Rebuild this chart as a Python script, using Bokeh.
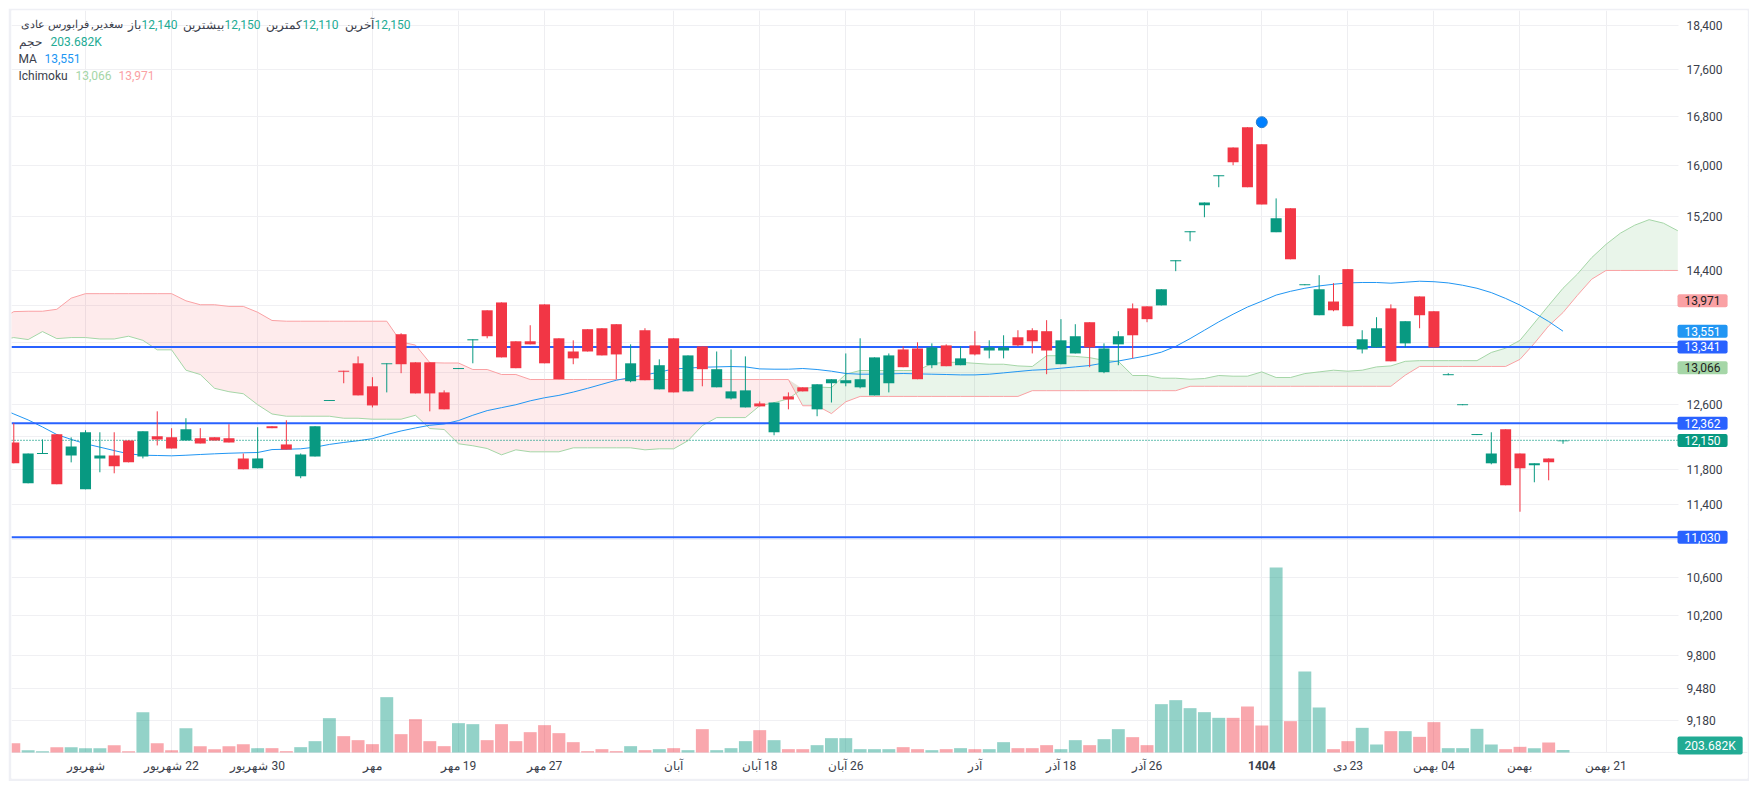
from bokeh.plotting import figure
from bokeh.models import (ColumnDataSource, Range1d, LinearScale, FixedTicker, NumeralTickFormatter, Label)
from bokeh.embed import file_html
from bokeh.resources import INLINE
import numpy as np

opens = [12126,11641,11987,12226,11969,11571,11934,11969,12151,11957,12201,12188,12151,12176,12188,12176,11934,11817,12324,12102,
         11723,11957,12639,13027,13124,12826,13112,13511,13137,13137,12748,13049,13429,13838,13947,13416,13416,13920,13456,13280,
         13579,13592,13647,12891,13565,12787,13456,12761,13348,12813,12671,12558,12608,12250,12697,12813,12534,12865,12865,12813,
         12710,12865,13307,13320,13099,13361,13099,13361,13293,13293,13470,13565,13552,13112,13254,13674,13008,13375,13865,13893,
         13906,14533,14962,15368,15823,16284,16617,16334,14962,15323,14189,13770,13960,14419,13307,13334,13865,13388,14031,13825,
         12969,12586,12216,11876,12287,11993,11852,11934,12140]
highs = [12361,11993,12163,12226,12188,12275,12250,12250,12151,12262,12509,12300,12423,12300,12188,12349,11993,12312,12324,12398,
         11993,12324,12651,13027,13215,12943,13124,13524,13137,13137,12774,13062,13443,13838,13947,13416,13633,13920,13456,13429,
         13579,13592,13647,13375,13592,13176,13456,13228,13348,13280,13307,13215,12633,12620,12748,12813,12852,12917,13254,13456,
         13202,13254,13348,13402,13388,13375,13348,13552,13429,13497,13565,13592,13702,13716,13647,13674,13388,13552,13933,13893,
         14132,14548,14977,15413,15838,16284,16617,16334,15475,15323,14203,14332,14218,14419,13565,13743,13920,13688,14031,13825,
         12995,12598,12228,12250,12287,11993,11876,11934,12150]
lows = [11876,11641,11987,11630,11887,11571,11770,11758,11887,11934,12090,12053,12151,12114,12151,12126,11805,11817,12300,12040,
        11700,11957,12639,12865,12710,12558,12748,12995,12735,12509,12534,13049,13124,13456,13202,13060,13375,13124,12917,13112,
        13280,13228,12917,12878,12904,12787,12748,12761,12826,12813,12658,12558,12571,12213,12534,12761,12448,12620,12826,12800,
        12710,12748,13073,12917,13060,13086,13099,13228,13189,13189,13348,13254,12982,13112,13254,13073,12995,13099,13189,13674,
        13906,14390,14826,15187,15649,15997,15649,15383,14962,14562,14189,13770,13825,13620,13254,13334,13150,13334,13592,13334,
        12969,12586,12216,11864,11618,11315,11653,11676,12110]
closes = [11876,11993,11999,11630,12078,12250,11969,11840,11887,12262,12163,12053,12287,12114,12151,12126,11805,11934,12300,12040,
          11981,12324,12651,13014,12710,12583,13124,13112,12735,12735,12534,13062,13443,13484,13202,13060,13375,13124,12917,13189,
          13280,13228,13241,13124,12904,13099,12748,13228,13047,13047,12761,12774,12571,12620,12658,12761,12852,12917,12904,12917,
          13202,13228,13073,12917,13334,13086,13189,13241,13334,13334,13361,13416,13293,13429,13484,13334,13320,13484,13497,13716,
          14132,14548,14977,15413,15838,16044,15649,15383,15172,14562,14203,14132,13838,13620,13443,13592,13150,13688,13770,13334,
          12982,12598,12228,11993,11618,11817,11876,11887,12150]
volumes_k = [756,189,108,432,432,351,351,594,108,3267,756,189,1971,513,270,513,675,351,351,108,
             432,918,2781,1323,999,675,4482,1485,2700,918,513,2376,2295,999,2295,918,1647,2214,1566,837,
             108,270,108,513,189,270,351,189,1890,189,351,918,1809,999,270,270,594,1161,1161,270,
             270,270,432,270,189,270,351,270,270,837,351,351,594,270,999,594,1080,1890,1242,594,
             3915,4239,3591,3267,2808,2808,3726,2187,14985,2538,6561,3645,270,918,1998,648,1728,1728,1269,2457,
             351,351,1917,648,270,459,351,810,203.682]

ma_values = [12555,12476,12402,12315,12222,12163,12110,12069,12028,11989,11972,11969,11965,11972,11981,11989,11996,12001,12005,12040,12044,
             12049,12069,12102,12126,12147,12172,12222,12266,12303,12336,12352,12394,12460,12518,12555,12592,12641,12680,12710,12752,
             12800,12852,12904,12939,12973,13008,13051,13060,13073,13077,13082,13077,13051,13047,13047,13056,13043,13021,12991,12982,
             12982,12986,12991,12986,12982,12978,12973,12973,12982,12999,13017,13034,13043,13060,13077,13095,13128,13154,13189,13224,
             13271,13348,13452,13565,13679,13784,13883,13964,14050,14103,14146,14179,14203,14222,14228,14228,14218,14232,14246,14239,
             14222,14189,14146,14085,14003,13910,13801,13684,13552]

senkou_a = [13429,13466,13439,13547,13452,13466,13466,13447,13447,13484,13429,13302,13302,13034,12978,12800,12757,12731,12592,12476,12448,
            12448,12448,12448,12423,12423,12411,12411,12411,12460,12296,12284,12110,12086,12053,11977,12037,12013,12013,12013,12061,
            12061,12061,12061,12061,12037,12049,12049,12147,12332,12431,12431,12431,12579,12617,12667,12796,12817,12809,12982,13030,
            13030,13030,13030,13030,13121,13137,13137,13124,13112,13112,13090,13082,13224,13224,13215,13198,13163,13150,12965,12965,
            12930,12930,12917,12926,12965,12956,12956,13012,12939,12939,12990,13012,13034,13021,13034,13077,13090,13150,13159,13159,
            13159,13159,13159,13267,13324,13429,13664,13906,14146,14347,14586,14781,14947,15067,15150,15097,14983]
senkou_b = [13702,13820,13825,13825,13852,14007,14070,14070,14070,14070,14070,14070,14070,13970,13915,13915,13892,13892,13811,13698,13688,
            13688,13688,13688,13688,13688,13688,13688,13406,13365,13133,13128,13128,13043,13043,12978,12978,12913,12913,12913,12913,
            12913,12913,12913,12913,12913,12913,12913,12913,12913,12913,12913,12913,12913,12913,12913,12579,12579,12481,12629,12697,
            12697,12697,12697,12697,12697,12697,12697,12697,12697,12697,12697,12770,12770,12770,12770,12770,12770,12770,12770,12770,
            12770,12770,12826,12826,12826,12826,12826,12826,12826,12826,12826,12826,12826,12826,12826,12826,12826,12969,13083,13083,
            13083,13083,13083,13083,13083,13176,13388,13624,13807,14046,14275,14400,14400,14400,14400,14400,14400]

price_ticks = [18400,17600,16800,16000,15200,14400,12600,11800,11400,10600,10200,9800,9480,9180]
grid_ticks = [18400,17600,16800,16000,15200,14400,13900,13400,13000,12600,12200,11800,11400,11000,10600,10200,9800,9480,9180]
date_ticks = [5,11,17,25,31,37,46,52,58,67,73,79,93,99,105,111]
date_labels = ["شهریور","\u200f22 شهریور","\u200f30 شهریور","مهر","\u200f19 مهر","\u200f27 مهر","آبان","\u200f18 آبان","\u200f26 آبان",
               "آذر","\u200f18 آذر","\u200f26 آذر","\u200f23 دی","\u200f04 بهمن","بهمن","\u200f21 بهمن"]
year_tick = 87
year_label = "1404"
marker_index = 87
marker_price = 16700
level_lines = [13341,12362,11030]
last_price = 12150

GREEN, RED = "#089981", "#F23645"
TEAL = "#22AB94"
TEXT = "#3A3E4A"
FONT = "Roboto"
XL, XR, XE = -0.16, 116.05, 120.86      # frame left, price-scale start, frame right
YLOW, YBASE, YTOP = 8667, 8896, 18672   # frame bottom, volume baseline, frame top

n = len(opens)
idx = np.arange(n)
o, h, l, c = map(np.array, (opens, highs, lows, closes))
up = c >= o

p = figure(width=1741, height=773, output_backend="svg", toolbar_location=None,
           y_axis_type="log", y_axis_location="right",
           x_range=Range1d(XL, XE), y_range=Range1d(YLOW, YTOP),
           min_border_left=3, min_border_right=2, min_border_top=2, min_border_bottom=3,
           background_fill_color="white", border_fill_color="#EFF0F5", outline_line_color=None,
           margin=(8, 0, 0, 8))
p.extra_y_ranges = {"vol": Range1d(-2106, 60102)}
p.extra_y_scales = {"vol": LinearScale()}

p.yaxis.ticker = FixedTicker(ticks=price_ticks)
p.yaxis.formatter = NumeralTickFormatter(format="0,0")
p.yaxis.axis_line_color = None
p.yaxis.major_tick_line_color = None
p.yaxis.minor_tick_line_color = None
p.yaxis.major_tick_in = 0
p.yaxis.major_tick_out = 0
p.yaxis.major_label_standoff = -61
p.yaxis.major_label_text_font = FONT
p.yaxis.major_label_text_font_size = "12px"
p.yaxis.major_label_text_color = TEXT
p.ygrid.ticker = FixedTicker(ticks=grid_ticks)
p.ygrid.grid_line_color = "#F0F0F3"
p.ygrid.minor_grid_line_color = None

p.xaxis.ticker = FixedTicker(ticks=date_ticks)
p.xaxis.major_label_overrides = dict(zip(date_ticks, date_labels))
p.xaxis.axis_line_color = None
p.xaxis.major_tick_line_color = None
p.xaxis.minor_tick_line_color = None
p.xaxis.major_tick_in = 0
p.xaxis.major_tick_out = 0
p.xaxis.major_label_standoff = -20
p.xaxis.major_label_text_font = FONT
p.xaxis.major_label_text_font_size = "12px"
p.xaxis.major_label_text_color = TEXT
p.xgrid.ticker = FixedTicker(ticks=date_ticks + [year_tick])
p.xgrid.grid_line_color = "#EEEEF1"

# white panes hide the grid under the price scale and the time scale
p.quad(left=XR, right=XE, bottom=YLOW, top=YTOP, fill_color="white", line_color=None)
p.quad(left=XL, right=XE, bottom=YLOW, top=YBASE, fill_color="white", line_color=None)
p.line([XL, XE], [YBASE, YBASE], line_color="#EEEEF1", line_width=1)

# Ichimoku cloud
cx = np.arange(-1, len(senkou_a) - 1)
a, b = np.array(senkou_a, float), np.array(senkou_b, float)
top = np.maximum(a, b)
p.varea(x=cx, y1=a, y2=top, fill_color=RED, fill_alpha=0.1)
p.varea(x=cx, y1=b, y2=top, fill_color="#4CAF50", fill_alpha=0.12)
p.line(cx, a, line_color="#A5D6A7", line_width=1)
p.line(cx, b, line_color="#FAA1A4", line_width=1)

# Volume
vcol = [GREEN if u else RED for u in up]
p.vbar(x=idx, bottom=0, top=volumes_k, width=0.9, fill_color=vcol, fill_alpha=0.44, line_color=None, y_range_name="vol")

# MA
p.line(np.arange(-1, len(ma_values) - 1), ma_values, line_color="#2196F3", line_width=1)

# Levels
for v in level_lines:
    p.line([XL, XR], [v, v], line_color="#2962FF", line_width=2)
p.line([XL, XR], [last_price, last_price], line_color=GREEN, line_width=1.3, line_dash=[1, 2])

# Candles
p.segment(x0=idx, x1=idx, y0=l, y1=h, line_color=vcol, line_width=1)
p.vbar(x=idx, bottom=np.minimum(o, c), top=np.maximum(o, c), width=0.767, fill_color=vcol, line_color=None)

p.scatter([marker_index], [marker_price], size=11, fill_color="#0080FF", line_color="#2E7FCC", line_width=1)

def tlabel(x, y, text, color=TEXT, size="12px", **kw):
    p.add_layout(Label(x=x - 8, y=y - 8, x_units="canvas", y_units="canvas", text=text, text_color=color,
                       text_font=FONT, text_font_size=size, text_baseline="middle", **kw))

tlabel(122, 24, "سغدیر, فرابورس عادی", size="11px", text_align="right")
tlabel(140, 24, "باز", text_align="right")
tlabel(141, 24, "12,140", TEAL)
tlabel(223, 24, "بیشترین", text_align="right")
tlabel(224, 24, "12,150", TEAL)
tlabel(301, 24, "کمترین", text_align="right")
tlabel(302, 24, "12,110", TEAL)
tlabel(373, 24, "آخرین", text_align="right")
tlabel(374, 24, "12,150", TEAL)
tlabel(18, 41, "حجم")
tlabel(50, 41, "203.682K", TEAL)
tlabel(18, 58, "MA")
tlabel(44, 58, "13,551", "#2196F3")
tlabel(18, 75, "Ichimoku")
tlabel(75, 75, "13,066", "#A5D6A7")
tlabel(118, 75, "13,971", "#FAA1A4")

p.add_layout(Label(x=year_tick, y=765 - 8, y_units="canvas", text=year_label, text_color=TEXT, text_font=FONT,
                   text_font_size="12px", text_font_style="bold", text_align="center", text_baseline="middle"))

def tag(price, text, bg, fg="white"):
    p.add_layout(Label(x=1669, y=price, x_units="canvas", text=text, text_color=fg, text_font=FONT,
                       text_font_size="12px", text_baseline="middle", background_fill_color=bg,
                       padding=(7, 2), border_radius=2))

tag(13971, "13,971", "#FAA1A4", "#222222")
tag(13551, "13,551", "#2196F3")
tag(13341, "13,341", "#2962FF")
tag(13066, "13,066", "#A5D6A7", "#222222")
tag(12362, "12,362", "#2962FF")
tag(12150, "12,150", GREEN)
tag(11030, "11,030", "#2962FF")
p.add_layout(Label(x=1669, y=745 - 8, x_units="canvas", y_units="canvas", text="203.682K", text_color="white",
                   text_font=FONT, text_font_size="12px", text_baseline="middle", background_fill_color=TEAL,
                   padding=(7, 2), border_radius=2))

open("out.html", "w").write(file_html(p, INLINE))
